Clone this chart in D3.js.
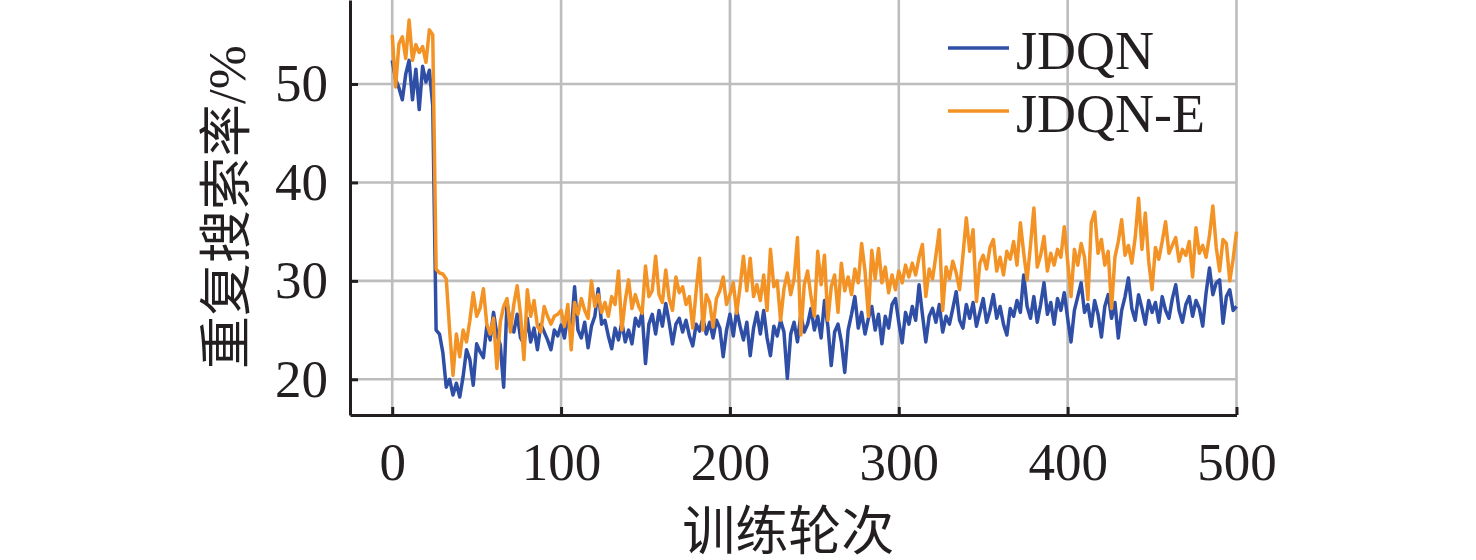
<!DOCTYPE html>
<html>
<head>
<meta charset="utf-8">
<script src="https://cdn.jsdelivr.net/npm/d3@7"></script>
<style>
  html, body { margin: 0; padding: 0; background: #fff; }
  svg { display: block; }
  text { font-family: "Liberation Serif", "Times New Roman", "Noto Sans CJK SC", serif; fill: #231f20; }
</style>
</head>
<body>
<script>
// 训练轮次 (每 2 轮取一个点)
const episodes = d3.range(0, 501, 2);

const seriesNames = ["JDQN", "JDQN-E"];

const jdqn = [
  52.4, 50.5, 49.6, 48.4, 51.0, 52.4, 48.4, 51.5, 47.4, 51.8,
  50.2, 51.4, 47.8, 25.0, 24.6, 22.7, 19.2, 20.0, 18.4, 19.6,
  18.2, 20.3, 23.0, 22.0, 19.4, 23.6, 22.8, 22.2, 25.4, 24.0,
  26.8, 24.5, 23.5, 19.2, 27.8, 25.6, 24.8, 26.6, 24.2, 23.6,
  26.2, 23.8, 25.2, 23.0, 25.6, 24.8, 24.0, 23.0, 25.0, 24.4,
  25.5, 24.2, 26.5, 24.8, 29.4, 25.0, 24.2, 25.8, 23.2, 25.4,
  26.4, 29.2, 25.6, 26.0, 24.4, 23.1, 25.2, 24.0, 25.8, 23.8,
  25.0, 23.6, 26.2, 25.4, 26.8, 21.6, 25.6, 26.6, 24.6, 27.0,
  25.4, 27.7, 25.8, 23.6, 25.6, 26.2, 24.8, 26.0, 24.4, 23.4,
  25.6, 24.9, 26.2, 24.6, 25.8, 24.2, 26.0, 25.2, 22.3, 25.0,
  26.6, 24.4, 27.0, 25.4, 24.0, 25.8, 22.4, 25.2, 26.8, 24.6,
  27.0, 24.2, 22.4, 25.4, 24.4, 26.0, 24.8, 20.1, 24.6, 25.8,
  23.8, 26.6, 24.8, 25.6, 27.2, 25.0, 26.4, 24.2, 28.0, 25.4,
  21.4, 24.8, 25.6, 23.8, 20.7, 25.0, 26.6, 28.4, 25.2, 26.8,
  24.6, 26.2, 27.4, 25.0, 26.6, 23.6, 26.4, 25.2, 27.6, 28.2,
  25.8, 23.7, 26.8, 25.6, 27.4, 26.0, 29.6, 26.6, 23.8, 26.4,
  27.2, 25.8, 27.6, 24.8, 26.4, 25.6, 27.2, 28.9, 26.0, 25.2,
  27.6, 26.2, 27.8, 25.4, 26.8, 28.2, 25.8, 27.0, 28.6, 26.2,
  27.4, 25.6, 24.5, 27.2, 26.4, 28.0, 26.8, 30.6, 27.4, 26.2,
  28.4, 25.8, 27.6, 29.8, 26.6, 27.8, 25.6, 28.2, 27.0, 28.8,
  26.2, 23.8, 27.0, 28.4, 29.8, 26.8, 27.6, 25.4, 28.0, 26.6,
  24.3, 27.4, 28.6, 26.2, 27.8, 24.2, 27.0, 28.4, 30.3, 27.2,
  26.0, 28.6, 27.2, 25.6, 28.0, 26.8, 27.8, 25.8, 28.4, 27.0,
  26.2, 28.2, 29.6, 27.0, 25.8, 27.6, 28.4, 26.4, 28.0, 27.2,
  25.4, 28.8, 31.3, 28.6, 29.8, 30.1, 25.7, 28.4, 29.1, 27.0,
  27.4
];

const jdqnE = [
  55.0, 49.7, 54.1, 54.8, 52.6, 56.5, 52.4, 54.0, 53.2, 53.8,
  52.2, 55.5, 55.0, 31.2, 30.8, 30.7, 30.2, 25.0, 20.4, 24.6,
  22.3, 25.0, 23.8, 26.0, 28.8, 26.4, 27.2, 29.2, 25.6, 24.6,
  26.2, 21.1, 25.8, 27.4, 28.2, 24.8, 27.6, 29.5, 26.6, 22.0,
  29.1, 26.4, 28.0, 25.4, 24.8, 27.4, 26.4, 25.6, 26.4, 26.6,
  27.0, 25.4, 27.6, 23.0, 27.8, 26.6, 28.2, 27.0, 26.2, 30.0,
  27.4, 28.6, 26.8, 27.8, 26.4, 28.4, 27.6, 31.0, 25.0, 28.0,
  30.1, 27.2, 28.6, 27.4, 26.7, 31.5, 28.4, 29.0, 32.5, 28.6,
  27.8, 31.1, 28.2, 27.0, 30.4, 28.8, 29.4, 27.6, 28.4, 25.2,
  29.0, 32.3, 25.0, 28.6, 27.8, 25.3, 28.2, 29.0, 30.4, 27.6,
  28.6, 29.8, 26.7, 29.4, 32.5, 29.0, 32.3, 28.4, 29.6, 28.0,
  30.6, 27.0, 33.2, 29.4, 30.0, 26.0, 29.2, 30.8, 28.6, 30.2,
  34.4, 24.5, 29.6, 31.0, 28.4, 26.4, 33.0, 29.6, 32.6, 26.0,
  29.4, 30.6, 26.8, 31.8, 29.0, 30.4, 28.6, 31.2, 29.8, 33.8,
  31.0, 26.4, 33.1, 30.2, 33.3, 29.8, 31.4, 28.8, 30.6, 29.1,
  31.0, 29.8, 31.6, 30.4, 31.8, 30.6, 32.4, 33.7, 28.4, 31.2,
  30.2, 32.6, 35.2, 27.0, 31.4, 30.2, 32.0, 30.8, 29.1, 32.6,
  36.4, 33.0, 35.2, 27.9, 31.8, 32.6, 31.2, 33.4, 34.2, 31.0,
  32.4, 30.6, 33.0, 32.2, 34.0, 31.6, 35.9, 32.8, 30.1, 33.6,
  37.4, 31.4, 32.6, 34.5, 31.0, 32.8, 31.6, 33.2, 32.4, 35.5,
  32.0, 28.4, 33.2, 31.6, 33.8, 32.4, 28.1, 35.9, 37.0, 32.8,
  34.2, 31.6, 33.0, 27.2, 32.4, 34.0, 36.2, 32.6, 33.6, 31.8,
  34.4, 38.4, 33.2, 36.9, 32.0, 29.1, 33.4, 32.2, 34.0, 36.0,
  32.8, 33.6, 34.4, 32.0, 33.2, 32.6, 34.0, 30.4, 35.4, 32.8,
  33.6, 32.4, 34.6, 37.6, 33.4, 31.0, 34.2, 33.8, 30.0, 32.2,
  35.0
];

const xTicks = [0, 100, 200, 300, 400, 500];
const yTicks = [20, 30, 40, 50];

const width = 1476;
const height = 560;
const plot = { left: 350, right: 1236.5, top: 0, bottom: 415 };
const colors = ["#2f4ea6", "#f39325"];
const fontSize = 53;

const svg = d3.select("body").append("svg")
  .attr("width", width)
  .attr("height", height);

// x 척도
const xScale = d3.scaleLinear()
  .domain([-25, 500])
  .range([plot.left, plot.right]);

// y 척도
const yScale = d3.scaleLinear()
  .domain([16.373, 58.535])
  .range([plot.bottom, plot.top]);

// 격자
const grid = svg.append("g")
  .attr("stroke", "#bdbdbd")
  .attr("stroke-width", 2.6);

grid.selectAll(".vx")
  .data(xTicks)
  .join("line")
  .attr("x1", d => xScale(d)).attr("x2", d => xScale(d))
  .attr("y1", plot.bottom).attr("y2", plot.top);

grid.selectAll(".hy")
  .data(yTicks)
  .join("line")
  .attr("y1", d => yScale(d)).attr("y2", d => yScale(d))
  .attr("x1", plot.left).attr("x2", plot.right);

// 선 그리기
const line = d3.line()
  .x((d, i) => xScale(episodes[i]))
  .y(d => yScale(d));

[jdqn, jdqnE].forEach((values, k) => {
  svg.append("path")
    .datum(values)
    .attr("d", line)
    .attr("fill", "none")
    .attr("stroke", colors[k])
    .attr("stroke-width", 3.5)
    .attr("stroke-linejoin", "round");
});

// 축
const xAxis = d3.axisBottom(xScale)
  .tickValues(xTicks)
  .tickSizeInner(-8)
  .tickSizeOuter(0)
  .tickPadding(27);

const yAxis = d3.axisLeft(yScale)
  .tickValues(yTicks)
  .tickSizeInner(-8)
  .tickSizeOuter(0)
  .tickPadding(22);

const gx = svg.append("g")
  .attr("transform", "translate(0," + plot.bottom + ")")
  .call(xAxis);

const gy = svg.append("g")
  .attr("transform", "translate(" + plot.left + ",0)")
  .call(yAxis);

[gx, gy].forEach(g => {
  g.select(".domain").attr("stroke", "#231f20").attr("stroke-width", 3);
  g.selectAll(".tick line").attr("stroke", "#231f20").attr("stroke-width", 3);
  g.selectAll(".tick text")
    .attr("fill", "#231f20")
    .style("font-size", fontSize + "px")
    .style("font-family", '"Liberation Serif", "Times New Roman", serif');
});

// 축 제목
svg.append("text")
  .attr("x", (plot.left + plot.right) / 2 - 5)
  .attr("y", 550)
  .attr("text-anchor", "middle")
  .style("font-size", fontSize + "px")
  .text("训练轮次");

svg.append("text")
  .attr("transform", "translate(245,207) rotate(-90)")
  .attr("text-anchor", "middle")
  .style("font-size", fontSize + "px")
  .text("重复搜索率/%");

// 범례
const legend = svg.append("g")
  .attr("transform", "translate(948,48)");

const item = legend.selectAll("g")
  .data(seriesNames)
  .join("g")
  .attr("transform", (d, i) => "translate(0," + i * 63 + ")");

item.append("line")
  .attr("x1", 0).attr("x2", 61)
  .attr("stroke", (d, i) => colors[i])
  .attr("stroke-width", 3.5);

item.append("text")
  .attr("x", 68)
  .attr("y", 21)
  .style("font-size", "54px")
  .text(d => d);
</script>
</body>
</html>
